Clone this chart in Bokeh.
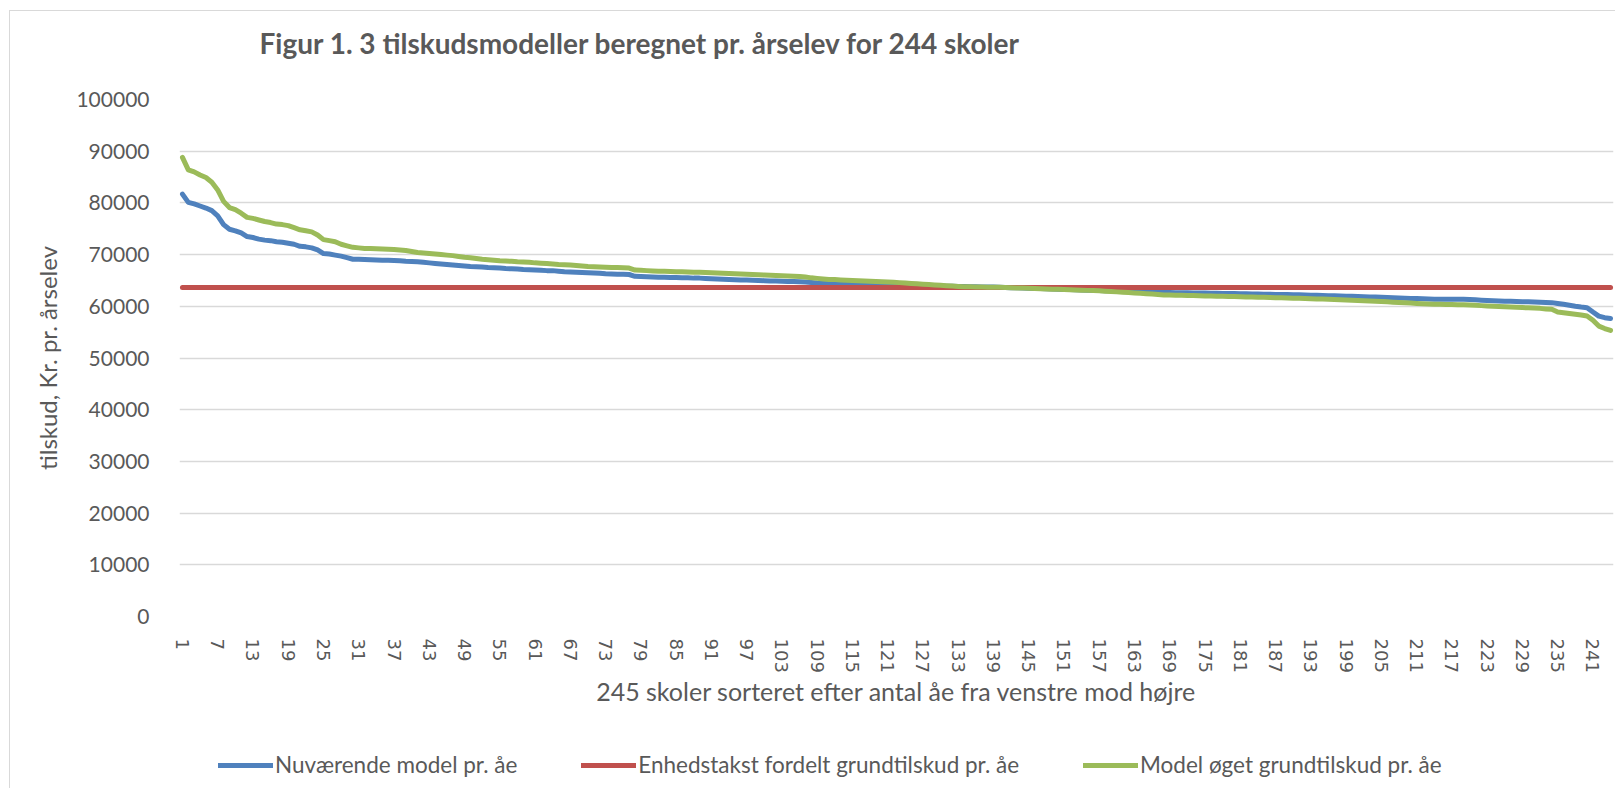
from bokeh.plotting import figure
from bokeh.layouts import column
from bokeh.models import Range1d, FixedTicker, Legend, LegendItem, PrintfTickFormatter
from bokeh.embed import file_html
from bokeh.resources import INLINE

# ---- data ----
title_text = "Figur 1. 3 tilskudsmodeller beregnet pr. årselev for 244 skoler"
x_title = "245 skoler sorteret efter antal åe fra venstre mod højre"
y_title = "tilskud, Kr. pr. årselev"
series_names = ["Nuværende model pr. åe",
                "Enhedstakst fordelt grundtilskud pr. åe",
                "Model øget grundtilskud pr. åe"]

nuvaerende = [
    81700, 80100, 79800, 79400, 79000, 78500, 77500, 75800, 74900, 74600,
    74200, 73500, 73300, 73000, 72800, 72700, 72500, 72400, 72200, 72000,
    71600, 71500, 71300, 70900, 70200, 70100, 69900, 69700, 69400, 69100,
    69100, 69050, 69000, 68950, 68900, 68900, 68850, 68800, 68700, 68650,
    68600, 68500, 68400, 68300, 68200, 68100, 68000, 67900, 67800, 67700,
    67650, 67600, 67500, 67450, 67400, 67300, 67250, 67200, 67100, 67050,
    67000, 66950, 66900, 66900, 66800, 66700, 66650, 66600, 66550, 66500,
    66450, 66400, 66300, 66250, 66200, 66200, 66150, 65800, 65750, 65700,
    65650, 65600, 65600, 65550, 65550, 65500, 65500, 65450, 65450, 65400,
    65350, 65300, 65250, 65200, 65150, 65100, 65100, 65050, 65000, 64950,
    64900, 64900, 64850, 64800, 64800, 64750, 64700, 64600, 64500, 64450,
    64450, 64400, 64350, 64330, 64300, 64280, 64250, 64230, 64200, 64180,
    64150, 64130, 64100, 64080, 64050, 64030, 64000, 63980, 63950, 63930,
    63900, 63880, 63850, 63830, 63800, 63780, 63750, 63730, 63710, 63690,
    63650, 63600, 63570, 63530, 63500, 63460, 63420, 63380, 63350, 63310,
    63270, 63230, 63200, 63160, 63120, 63080, 63050, 63020, 62990, 62950,
    62920, 62880, 62850, 62810, 62780, 62740, 62700, 62660, 62650, 62630,
    62620, 62600, 62590, 62570, 62550, 62540, 62520, 62500, 62490, 62470,
    62450, 62430, 62400, 62380, 62350, 62330, 62300, 62280, 62260, 62230,
    62210, 62180, 62150, 62120, 62080, 62050, 62020, 61990, 61950, 61920,
    61890, 61850, 61820, 61780, 61740, 61700, 61650, 61610, 61570, 61530,
    61490, 61450, 61400, 61360, 61360, 61350, 61350, 61340, 61340, 61330,
    61250, 61180, 61120, 61080, 61040, 61000, 60970, 60930, 60890, 60860,
    60820, 60790, 60750, 60710, 60550, 60390, 60200, 60000, 59850, 59740,
    58900, 58100, 57800, 57660,
]

model_oeget = [
    88800, 86400, 86000, 85400, 84900, 84000, 82500, 80300, 79100, 78700,
    78000, 77200, 77000, 76700, 76400, 76200, 75900, 75800, 75600, 75200,
    74800, 74600, 74400, 73800, 72900, 72700, 72500, 72000, 71700, 71400,
    71300, 71200, 71200, 71150, 71100, 71050, 71000, 70900, 70800, 70600,
    70400, 70300, 70200, 70100, 70000, 69900, 69800, 69650, 69500, 69400,
    69250, 69100, 69000, 68900, 68800, 68750, 68700, 68600, 68550, 68500,
    68400, 68350, 68300, 68200, 68100, 68050, 68000, 67900, 67800, 67700,
    67650, 67600, 67550, 67500, 67500, 67450, 67400, 67000, 66950, 66900,
    66850, 66800, 66800, 66750, 66700, 66700, 66650, 66600, 66580, 66530,
    66480, 66430, 66390, 66340, 66290, 66250, 66200, 66150, 66100, 66060,
    66010, 65960, 65910, 65870, 65820, 65780, 65650, 65500, 65400, 65300,
    65200, 65160, 65100, 65050, 65000, 64950, 64900, 64850, 64800, 64750,
    64700, 64650, 64580, 64500, 64420, 64350, 64270, 64200, 64120, 64050,
    63980, 63910, 63850, 63800, 63760, 63740, 63720, 63700, 63690, 63680,
    63640, 63600, 63560, 63520, 63480, 63440, 63400, 63360, 63320, 63280,
    63240, 63200, 63160, 63120, 63080, 63040, 63000, 62930, 62860, 62790,
    62720, 62650, 62580, 62510, 62440, 62370, 62300, 62200, 62180, 62150,
    62120, 62100, 62070, 62040, 62010, 61990, 61960, 61930, 61900, 61880,
    61850, 61820, 61790, 61760, 61730, 61700, 61670, 61640, 61610, 61580,
    61560, 61520, 61480, 61430, 61390, 61350, 61300, 61260, 61210, 61170,
    61130, 61080, 61040, 60980, 60920, 60860, 60800, 60740, 60680, 60620,
    60560, 60500, 60450, 60390, 60380, 60360, 60340, 60320, 60300, 60260,
    60200, 60130, 60060, 60000, 59940, 59900, 59850, 59800, 59750, 59700,
    59650, 59600, 59500, 59420, 58900, 58770, 58600, 58450, 58300, 58120,
    57300, 56170, 55700, 55320,
]

enhedstakst_value = 63640
schools = list(range(1, len(nuvaerende) + 1))
enhedstakst = [enhedstakst_value for _ in schools]

y_ticks = [0, 10000, 20000, 30000, 40000, 50000, 60000, 70000, 80000, 90000, 100000]
x_ticks = [1, 7, 13, 19, 25, 31, 37, 43, 49, 55, 61, 67, 73, 79, 85, 91, 97, 103,
           109, 115, 121, 127, 133, 139, 145, 151, 157, 163, 169, 175, 181, 187,
           193, 199, 205, 211, 217, 223, 229, 235, 241]

# ---- styles ----
TXT = "#595959"
FONT = "Lato"
COLORS = ["#4F81BD", "#C0504D", "#9BBB59"]
series = [nuvaerende, enhedstakst, model_oeget]
W = 1605
LEFT = 169
TITLE_H = 76
MAIN_H = 633
LEG_H = 68


def strip(height):
    f = figure(width=W, height=height, output_backend="svg", toolbar_location=None,
               x_range=Range1d(0, 1), y_range=Range1d(0, 1),
               min_border=0, min_border_left=LEFT, min_border_right=2,
               min_border_top=0, min_border_bottom=0)
    f.axis.visible = False
    f.grid.visible = False
    f.outline_line_color = None
    f.background_fill_color = "white"
    f.border_fill_color = "white"
    return f


# ---- title strip ----
pt = strip(TITLE_H)
pt.title.text = title_text
pt.title.text_font = FONT
pt.title.text_font_size = "28px"
pt.title.text_font_style = "bold"
pt.title.text_color = TXT
pt.title.align = "left"
pt.title.offset = 80
pt.title.standoff = 24

# ---- main chart ----
p = figure(width=W, height=MAIN_H, output_backend="svg", toolbar_location=None,
           x_range=Range1d(0.5, len(schools) + 0.5), y_range=Range1d(0, 100000),
           min_border_left=LEFT, min_border_right=2, min_border_top=12,
           min_border_bottom=104)
p.outline_line_color = None
p.background_fill_color = "white"
p.border_fill_color = "white"

p.xgrid.grid_line_color = None
p.ygrid.grid_line_color = "#D9D9D9"
p.ygrid.grid_line_width = 1.5

yax = p.yaxis[0]
yax.ticker = FixedTicker(ticks=y_ticks)
yax.formatter = PrintfTickFormatter(format="%d")
yax.axis_line_color = None
yax.major_tick_line_color = None
yax.minor_tick_line_color = None
yax.major_label_standoff = 24
yax.major_label_text_font = FONT
yax.major_label_text_font_size = "21px"
yax.major_label_text_color = TXT
yax.axis_label = y_title
yax.axis_label_text_font = FONT
yax.axis_label_text_font_size = "24px"
yax.axis_label_text_font_style = "normal"
yax.axis_label_text_color = TXT
yax.axis_label_standoff = 11

xax = p.xaxis[0]
xax.ticker = FixedTicker(ticks=x_ticks)
xax.axis_line_color = None
xax.major_tick_line_color = None
xax.minor_tick_line_color = None
xax.major_label_orientation = "vertical"
xax.major_label_standoff = 16
xax.major_label_text_font = "DejaVu Sans"
xax.major_label_text_font_size = "18px"
xax.major_label_text_color = TXT
xax.axis_label = x_title
xax.axis_label_text_font = FONT
xax.axis_label_text_font_size = "25px"
xax.axis_label_text_font_style = "normal"
xax.axis_label_text_color = TXT
xax.axis_label_standoff = 0

for vals, col in zip(series, COLORS):
    p.line(schools, vals, line_color=col, line_width=5,
           line_cap="round", line_join="round")

# ---- legend strip below the chart (its lines lie outside its view) ----
pl = strip(LEG_H)
items = []
for name, vals, col in zip(series_names, series, COLORS):
    r = pl.line(schools, vals, line_color=col, line_width=5,
                line_cap="round", line_join="round")
    items.append(LegendItem(label=name, renderers=[r]))

legend = Legend(items=items, orientation="horizontal", location=(39, 10),
                border_line_color=None, background_fill_alpha=0,
                padding=0, margin=0, spacing=64, glyph_width=55,
                glyph_height=20, label_standoff=2, label_height=20,
                label_text_font=FONT, label_text_font_size="22.5px",
                label_text_color=TXT)
pl.add_layout(legend)

layout = column(pt, p, pl, spacing=0,
                styles={"margin-left": "9px", "margin-top": "10px",
                        "border-left": "1px solid #D9D9D9",
                        "border-top": "1px solid #D9D9D9"})
open("out.html", "w").write(file_html(layout, INLINE))
